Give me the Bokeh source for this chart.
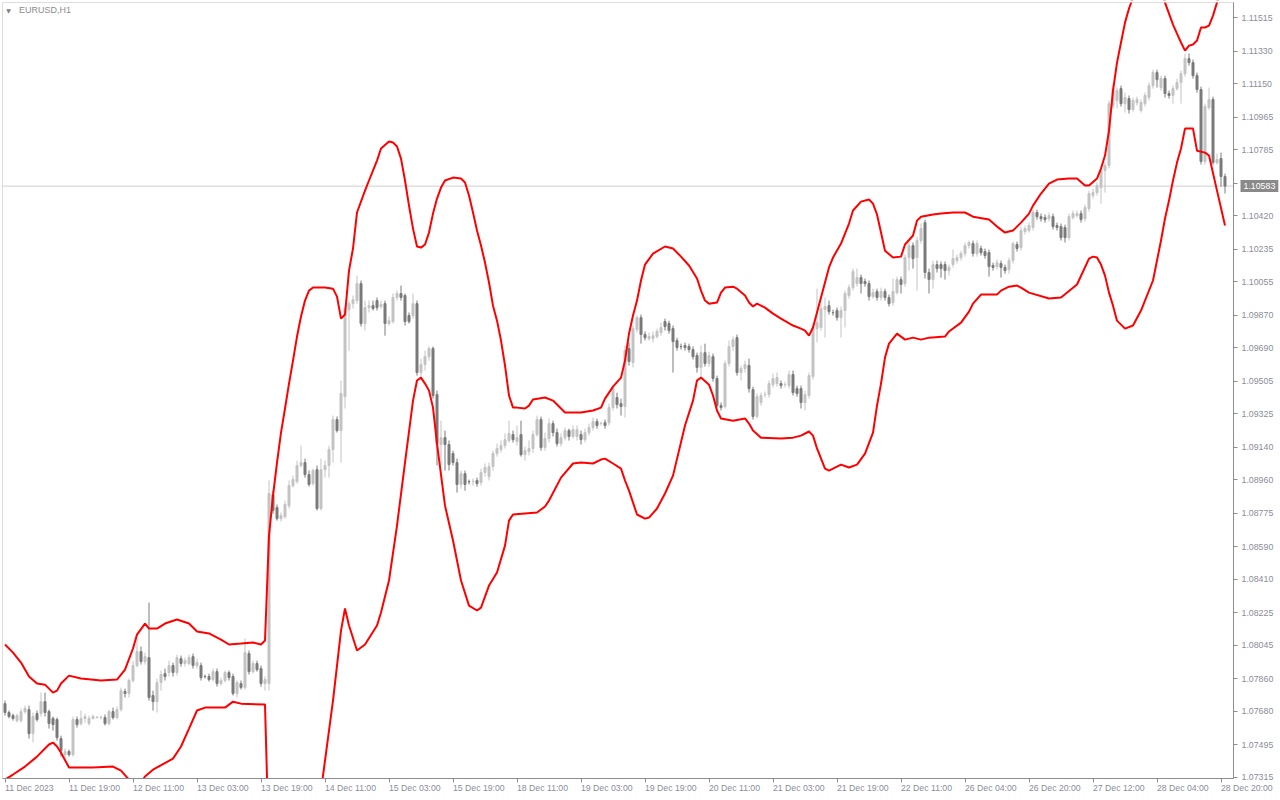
from bokeh.plotting import figure
from bokeh.models import (Range1d, FixedTicker, PrintfTickFormatter, ColumnDataSource,
                          LabelSet, Label, Span, BoxAnnotation)
from bokeh.core.properties import value
from bokeh.embed import file_html
from bokeh.resources import INLINE

# ---------------- data (EURUSD H1) ----------------
opn = [
1.07721, 1.07672, 1.07655, 1.07627, 1.07627, 1.07677, 1.07688, 1.07555, 1.07666, 1.07666,
1.07732, 1.07677, 1.07639, 1.07633, 1.07528, 1.07439, 1.07456, 1.07439, 1.07633, 1.07611,
1.07639, 1.07611, 1.07639, 1.07644, 1.07644, 1.07644, 1.07611, 1.07677, 1.07644, 1.07688,
1.07788, 1.07777, 1.07849, 1.07932, 1.08009, 1.07954, 1.07976, 1.07766, 1.07732, 1.07838,
1.07887, 1.07893, 1.07932, 1.07893, 1.07970, 1.07943, 1.07943, 1.07981, 1.07932, 1.07932,
1.07871, 1.07871, 1.07854, 1.07898, 1.07832, 1.07849, 1.07893, 1.07871, 1.07777, 1.07832,
1.07810, 1.07998, 1.07898, 1.07943, 1.07915, 1.07832, 1.07832, 1.08877, 1.08805, 1.08744,
1.08755, 1.08816, 1.08927, 1.08949, 1.09038, 1.09054, 1.08988, 1.08938, 1.09015, 1.08800,
1.09015, 1.09038, 1.09126, 1.09292, 1.09231, 1.09419, 1.09900, 1.09933, 1.09950, 1.10044,
1.09823, 1.09911, 1.09922, 1.09950, 1.09917, 1.09933, 1.09823, 1.09834, 1.09967, 1.09989,
1.09978, 1.09867, 1.09867, 1.09933, 1.09552, 1.09596, 1.09640, 1.09685, 1.09430, 1.09154,
1.09192, 1.09154, 1.09104, 1.09054, 1.08933, 1.08993, 1.08949, 1.08949, 1.08955, 1.08944,
1.08999, 1.08977, 1.09032, 1.09104, 1.09126, 1.09148, 1.09176, 1.09209, 1.09170, 1.09209,
1.09098, 1.09115, 1.09132, 1.09209, 1.09292, 1.09137, 1.09187, 1.09270, 1.09220, 1.09159,
1.09192, 1.09231, 1.09198, 1.09198, 1.09209, 1.09181, 1.09220, 1.09248, 1.09281, 1.09270,
1.09275, 1.09275, 1.09358, 1.09414, 1.09380, 1.09364, 1.09685, 1.09607, 1.09790, 1.09856,
1.09762, 1.09740, 1.09740, 1.09751, 1.09773, 1.09834, 1.09823, 1.09795, 1.09729, 1.09696,
1.09701, 1.09696, 1.09679, 1.09646, 1.09580, 1.09662, 1.09602, 1.09640, 1.09519, 1.09369,
1.09364, 1.09602, 1.09696, 1.09745, 1.09552, 1.09574, 1.09591, 1.09458, 1.09309, 1.09386,
1.09430, 1.09430, 1.09485, 1.09491, 1.09491, 1.09485, 1.09480, 1.09541, 1.09463, 1.09463,
1.09386, 1.09425, 1.09530, 1.09795, 1.09801, 1.09900, 1.09922, 1.09884, 1.09895, 1.09856,
1.09895, 1.09978, 1.10022, 1.10044, 1.10077, 1.10055, 1.10044, 1.09972, 1.10000, 1.09967,
1.10000, 1.09967, 1.09939, 1.09994, 1.10066, 1.10044, 1.10188, 1.10254, 1.10188, 1.10282,
1.10381, 1.10105, 1.10066, 1.10149, 1.10149, 1.10149, 1.10116, 1.10149, 1.10171, 1.10188,
1.10210, 1.10254, 1.10265, 1.10210, 1.10238, 1.10221, 1.10215, 1.10144, 1.10138, 1.10155,
1.10133, 1.10121, 1.10171, 1.10260, 1.10243, 1.10332, 1.10337, 1.10354, 1.10437, 1.10414,
1.10409, 1.10403, 1.10414, 1.10365, 1.10359, 1.10354, 1.10298, 1.10409, 1.10420, 1.10431,
1.10403, 1.10459, 1.10531, 1.10547, 1.10575, 1.10669, 1.10697, 1.11028, 1.11056, 1.11122,
1.11039, 1.11067, 1.11006, 1.11045, 1.11001, 1.11039, 1.11073, 1.11139, 1.11211, 1.11128,
1.11178, 1.11095, 1.11084, 1.11122, 1.11156, 1.11205, 1.11288, 1.11266, 1.11194, 1.11117,
1.10719, 1.11017, 1.11062, 1.10713, 1.10735, 1.10636]

close = [
1.07672, 1.07650, 1.07639, 1.07655, 1.07677, 1.07694, 1.07555, 1.07650, 1.07633, 1.07732,
1.07672, 1.07611, 1.07605, 1.07533, 1.07462, 1.07456, 1.07439, 1.07633, 1.07605, 1.07639,
1.07650, 1.07639, 1.07650, 1.07647, 1.07645, 1.07611, 1.07677, 1.07644, 1.07688, 1.07793,
1.07777, 1.07849, 1.07932, 1.08009, 1.07954, 1.07981, 1.07755, 1.07732, 1.07838, 1.07882,
1.07871, 1.07932, 1.07893, 1.07976, 1.07943, 1.07959, 1.07976, 1.07932, 1.07948, 1.07865,
1.07870, 1.07854, 1.07898, 1.07832, 1.07849, 1.07893, 1.07865, 1.07777, 1.07838, 1.07810,
1.08003, 1.07898, 1.07943, 1.07909, 1.07832, 1.07854, 1.08883, 1.08789, 1.08744, 1.08761,
1.08822, 1.08927, 1.08960, 1.09038, 1.09054, 1.08988, 1.08933, 1.09010, 1.08800, 1.09015,
1.09038, 1.09126, 1.09292, 1.09231, 1.09436, 1.09906, 1.09933, 1.09955, 1.10044, 1.09823,
1.09911, 1.09922, 1.09906, 1.09911, 1.09928, 1.09823, 1.09839, 1.09967, 1.09989, 1.09967,
1.09834, 1.09834, 1.09933, 1.09552, 1.09596, 1.09640, 1.09685, 1.09425, 1.09159, 1.09192,
1.09154, 1.09043, 1.09054, 1.08933, 1.08993, 1.08933, 1.08948, 1.08950, 1.08938, 1.08999,
1.09027, 1.09032, 1.09104, 1.09132, 1.09148, 1.09181, 1.09215, 1.09181, 1.09192, 1.09098,
1.09120, 1.09132, 1.09209, 1.09292, 1.09137, 1.09187, 1.09270, 1.09220, 1.09159, 1.09192,
1.09231, 1.09198, 1.09237, 1.09237, 1.09181, 1.09220, 1.09248, 1.09281, 1.09259, 1.09271,
1.09259, 1.09358, 1.09463, 1.09375, 1.09364, 1.09673, 1.09613, 1.09795, 1.09856, 1.09762,
1.09745, 1.09751, 1.09756, 1.09779, 1.09801, 1.09806, 1.09784, 1.09723, 1.09690, 1.09695,
1.09690, 1.09679, 1.09640, 1.09580, 1.09662, 1.09602, 1.09646, 1.09519, 1.09369, 1.09358,
1.09602, 1.09696, 1.09734, 1.09552, 1.09574, 1.09596, 1.09463, 1.09309, 1.09419, 1.09425,
1.09431, 1.09491, 1.09519, 1.09524, 1.09480, 1.09486, 1.09541, 1.09441, 1.09436, 1.09386,
1.09430, 1.09535, 1.09801, 1.09828, 1.09906, 1.09917, 1.09889, 1.09883, 1.09856, 1.09895,
1.09989, 1.10022, 1.10110, 1.10077, 1.10044, 1.10044, 1.09972, 1.09994, 1.09967, 1.10000,
1.09967, 1.09933, 1.10000, 1.10066, 1.10039, 1.10188, 1.10254, 1.10182, 1.10282, 1.10348,
1.10105, 1.10066, 1.10149, 1.10127, 1.10127, 1.10116, 1.10133, 1.10182, 1.10188, 1.10210,
1.10254, 1.10271, 1.10210, 1.10265, 1.10215, 1.10199, 1.10138, 1.10133, 1.10160, 1.10133,
1.10116, 1.10171, 1.10265, 1.10238, 1.10337, 1.10348, 1.10365, 1.10437, 1.10414, 1.10403,
1.10398, 1.10420, 1.10359, 1.10354, 1.10298, 1.10298, 1.10414, 1.10431, 1.10431, 1.10398,
1.10464, 1.10542, 1.10547, 1.10586, 1.10669, 1.10697, 1.11039, 1.11122, 1.11111, 1.11039,
1.11073, 1.11006, 1.11056, 1.11062, 1.11045, 1.11084, 1.11139, 1.11211, 1.11172, 1.11178,
1.11095, 1.11084, 1.11122, 1.11156, 1.11205, 1.11288, 1.11266, 1.11194, 1.11117, 1.10719,
1.11023, 1.11062, 1.10713, 1.10730, 1.10636, 1.10583]

high = [
1.07738, 1.07683, 1.07666, 1.07666, 1.07694, 1.07710, 1.07710, 1.07672, 1.07683, 1.07782,
1.07782, 1.07688, 1.07650, 1.07644, 1.07544, 1.07473, 1.07467, 1.07650, 1.07650, 1.07683,
1.07666, 1.07655, 1.07661, 1.07650, 1.07655, 1.07661, 1.07688, 1.07699, 1.07705, 1.07810,
1.07804, 1.07860, 1.07959, 1.08086, 1.08037, 1.08003, 1.08280, 1.07793, 1.07860, 1.07904,
1.07915, 1.07959, 1.07948, 1.07992, 1.07987, 1.07976, 1.07992, 1.07998, 1.07970, 1.07948,
1.07882, 1.07887, 1.07915, 1.07915, 1.07865, 1.07904, 1.07904, 1.07887, 1.07849, 1.07849,
1.08081, 1.08015, 1.07959, 1.07959, 1.07932, 1.07871, 1.08955, 1.08899, 1.08822, 1.08778,
1.08844, 1.08955, 1.08982, 1.09065, 1.09148, 1.09076, 1.09010, 1.09021, 1.09038, 1.09076,
1.09065, 1.09148, 1.09314, 1.09309, 1.09508, 1.09922, 1.09950, 1.09978, 1.10088, 1.10061,
1.09950, 1.09950, 1.09950, 1.09967, 1.09950, 1.09950, 1.09862, 1.09989, 1.10005, 1.10033,
1.09989, 1.09884, 1.09989, 1.09950, 1.09629, 1.09673, 1.09696, 1.09696, 1.09452, 1.09286,
1.09231, 1.09176, 1.09120, 1.09076, 1.09010, 1.09010, 1.08960, 1.08966, 1.08971, 1.09021,
1.09049, 1.09054, 1.09120, 1.09159, 1.09176, 1.09215, 1.09286, 1.09231, 1.09259, 1.09286,
1.09143, 1.09176, 1.09231, 1.09314, 1.09309, 1.09220, 1.09298, 1.09286, 1.09242, 1.09215,
1.09248, 1.09242, 1.09259, 1.09259, 1.09231, 1.09242, 1.09270, 1.09303, 1.09298, 1.09281,
1.09292, 1.09380, 1.09480, 1.09441, 1.09408, 1.09701, 1.09718, 1.09812, 1.09867, 1.09873,
1.09779, 1.09773, 1.09779, 1.09795, 1.09828, 1.09850, 1.09839, 1.09812, 1.09745, 1.09712,
1.09718, 1.09712, 1.09696, 1.09662, 1.09701, 1.09712, 1.09668, 1.09657, 1.09535, 1.09386,
1.09618, 1.09729, 1.09751, 1.09762, 1.09591, 1.09618, 1.09629, 1.09474, 1.09436, 1.09441,
1.09447, 1.09508, 1.09546, 1.09552, 1.09508, 1.09502, 1.09563, 1.09563, 1.09480, 1.09480,
1.09452, 1.09552, 1.09817, 1.10016, 1.09933, 1.09967, 1.09950, 1.09900, 1.09911, 1.09917,
1.10005, 1.10039, 1.10127, 1.10127, 1.10094, 1.10072, 1.10061, 1.10016, 1.10016, 1.10022,
1.10016, 1.09983, 1.10072, 1.10083, 1.10083, 1.10204, 1.10271, 1.10271, 1.10304, 1.10376,
1.10398, 1.10127, 1.10171, 1.10171, 1.10166, 1.10166, 1.10149, 1.10232, 1.10204, 1.10226,
1.10271, 1.10282, 1.10282, 1.10282, 1.10254, 1.10238, 1.10232, 1.10160, 1.10177, 1.10171,
1.10149, 1.10188, 1.10276, 1.10276, 1.10359, 1.10365, 1.10381, 1.10453, 1.10453, 1.10431,
1.10426, 1.10437, 1.10431, 1.10381, 1.10376, 1.10370, 1.10431, 1.10448, 1.10448, 1.10448,
1.10481, 1.10558, 1.10569, 1.10603, 1.10686, 1.10713, 1.11056, 1.11145, 1.11128, 1.11139,
1.11100, 1.11084, 1.11073, 1.11078, 1.11062, 1.11100, 1.11156, 1.11227, 1.11227, 1.11194,
1.11194, 1.11111, 1.11139, 1.11178, 1.11222, 1.11316, 1.11316, 1.11283, 1.11211, 1.11133,
1.11039, 1.11128, 1.11078, 1.10763, 1.10768, 1.10652]

low = [
1.07655, 1.07639, 1.07627, 1.07616, 1.07616, 1.07666, 1.07528, 1.07506, 1.07622, 1.07650,
1.07650, 1.07583, 1.07572, 1.07517, 1.07428, 1.07423, 1.07428, 1.07428, 1.07589, 1.07600,
1.07616, 1.07600, 1.07633, 1.07639, 1.07633, 1.07600, 1.07600, 1.07633, 1.07633, 1.07677,
1.07755, 1.07755, 1.07838, 1.07921, 1.07937, 1.07937, 1.07738, 1.07683, 1.07672, 1.07793,
1.07849, 1.07871, 1.07871, 1.07876, 1.07926, 1.07926, 1.07932, 1.07915, 1.07915, 1.07849,
1.07860, 1.07843, 1.07843, 1.07815, 1.07821, 1.07838, 1.07849, 1.07766, 1.07755, 1.07799,
1.07799, 1.07882, 1.07887, 1.07898, 1.07815, 1.07793, 1.07793, 1.08772, 1.08733, 1.08728,
1.08744, 1.08800, 1.08916, 1.08938, 1.09027, 1.08971, 1.08921, 1.08927, 1.08789, 1.08789,
1.08971, 1.08971, 1.09054, 1.09220, 1.09054, 1.09353, 1.09673, 1.09906, 1.09933, 1.09806,
1.09784, 1.09884, 1.09895, 1.09895, 1.09906, 1.09756, 1.09812, 1.09823, 1.09950, 1.09950,
1.09812, 1.09823, 1.09850, 1.09535, 1.09508, 1.09563, 1.09618, 1.09408, 1.09038, 1.09038,
1.09010, 1.09010, 1.09038, 1.08888, 1.08910, 1.08899, 1.08933, 1.08927, 1.08921, 1.08927,
1.08977, 1.08955, 1.09010, 1.09087, 1.09109, 1.09132, 1.09165, 1.09165, 1.09148, 1.09087,
1.09065, 1.09093, 1.09109, 1.09198, 1.09120, 1.09120, 1.09165, 1.09198, 1.09143, 1.09143,
1.09176, 1.09176, 1.09187, 1.09176, 1.09154, 1.09165, 1.09203, 1.09231, 1.09242, 1.09259,
1.09242, 1.09259, 1.09342, 1.09353, 1.09314, 1.09303, 1.09591, 1.09580, 1.09773, 1.09712,
1.09729, 1.09729, 1.09718, 1.09740, 1.09756, 1.09784, 1.09767, 1.09552, 1.09673, 1.09679,
1.09673, 1.09662, 1.09624, 1.09552, 1.09524, 1.09585, 1.09585, 1.09502, 1.09358, 1.09342,
1.09353, 1.09585, 1.09673, 1.09535, 1.09508, 1.09552, 1.09441, 1.09292, 1.09298, 1.09369,
1.09414, 1.09414, 1.09469, 1.09474, 1.09463, 1.09469, 1.09463, 1.09425, 1.09419, 1.09353,
1.09342, 1.09408, 1.09513, 1.09718, 1.09784, 1.09745, 1.09873, 1.09867, 1.09839, 1.09745,
1.09801, 1.09961, 1.10005, 1.10027, 1.09989, 1.10027, 1.09950, 1.09961, 1.09950, 1.09950,
1.09950, 1.09917, 1.09922, 1.09983, 1.09989, 1.10027, 1.10116, 1.10127, 1.10005, 1.10265,
1.10072, 1.09989, 1.10016, 1.10105, 1.10077, 1.10066, 1.10088, 1.10133, 1.10155, 1.10171,
1.10193, 1.10238, 1.10193, 1.10193, 1.10199, 1.10182, 1.10083, 1.10116, 1.10121, 1.10077,
1.10099, 1.10099, 1.10155, 1.10221, 1.10226, 1.10315, 1.10326, 1.10337, 1.10398, 1.10387,
1.10381, 1.10387, 1.10343, 1.10337, 1.10282, 1.10271, 1.10282, 1.10398, 1.10409, 1.10381,
1.10387, 1.10442, 1.10514, 1.10531, 1.10486, 1.10547, 1.10680, 1.11012, 1.11012, 1.11023,
1.10990, 1.10984, 1.10995, 1.11028, 1.10990, 1.11023, 1.11056, 1.11122, 1.11128, 1.11111,
1.11073, 1.11067, 1.11039, 1.11111, 1.11039, 1.11189, 1.11250, 1.11178, 1.11100, 1.10702,
1.10702, 1.11006, 1.10702, 1.10702, 1.10580, 1.10542]

# red envelope (indicator) – bar index and value
upper_bar = [0, 2, 4, 6, 8, 10, 12, 13, 14, 16, 19, 24, 28, 30, 32, 33, 35, 36, 38, 40,
             43, 46, 48, 51, 54, 56, 59, 62, 64, 65, 66, 67, 68, 69, 70, 71, 72, 73, 74, 75,
             76, 77, 80, 82, 83, 84, 85, 86, 87, 88, 90, 91, 93, 94, 96, 97, 98, 99, 100, 101,
             102, 103, 104, 105, 106, 107, 108, 109, 110, 112, 114, 115, 116, 117, 118, 119, 120, 121, 122, 123,
             124, 125, 126, 127, 128, 130, 131, 132, 135, 137, 138, 140, 144, 147, 149, 150, 152, 154, 155, 156,
             157, 158, 159, 160, 162, 165, 167, 169, 171, 173, 174, 175, 176, 178, 179, 180, 182, 183, 185, 186,
             187, 188, 190, 192, 194, 197, 199, 200, 201, 202, 204, 206, 207, 209, 211, 212, 214, 216, 217, 218,
             219, 220, 222, 224, 225, 227, 228, 229, 232, 234, 237, 240, 242, 246, 248, 250, 252, 254, 256, 257,
             259, 261, 263, 266, 268, 270, 271, 273, 274, 275, 276, 277, 278, 279, 280, 281, 282, 284, 286, 288,
             289, 290, 292, 293, 294, 295, 296, 297, 298, 299, 300, 301, 302, 303, 304, 305]
upper_val = [1.08048, 1.08003, 1.07948, 1.07871, 1.07832, 1.07826, 1.07782, 1.07793, 1.07832, 1.07876,
             1.07860, 1.07849, 1.07854, 1.07909, 1.08026, 1.08103, 1.08164, 1.08136, 1.08136, 1.08164,
             1.08186, 1.08164, 1.08120, 1.08109, 1.08075, 1.08048, 1.08053, 1.08059, 1.08048, 1.08070,
             1.08650, 1.08872, 1.09054, 1.09220, 1.09353, 1.09491, 1.09618, 1.09751, 1.09862, 1.09950,
             1.10005, 1.10022, 1.10022, 1.10016, 1.09972, 1.09850, 1.09873, 1.10116, 1.10238, 1.10437,
             1.10558, 1.10614, 1.10724, 1.10791, 1.10830, 1.10824, 1.10802, 1.10735, 1.10614, 1.10475,
             1.10348, 1.10249, 1.10243, 1.10260, 1.10326, 1.10431, 1.10514, 1.10575, 1.10614, 1.10630,
             1.10625, 1.10603, 1.10531, 1.10437, 1.10337, 1.10254, 1.10160, 1.10050, 1.09922, 1.09839,
             1.09729, 1.09591, 1.09425, 1.09358, 1.09358, 1.09353, 1.09369, 1.09403, 1.09414, 1.09397,
             1.09375, 1.09331, 1.09331, 1.09342, 1.09358, 1.09408, 1.09474, 1.09524, 1.09618, 1.09767,
             1.09867, 1.09950, 1.10061, 1.10149, 1.10210, 1.10249, 1.10238, 1.10193, 1.10144, 1.10072,
             1.10005, 1.09950, 1.09933, 1.09939, 1.09994, 1.10022, 1.10027, 1.10016, 1.09978, 1.09939,
             1.09917, 1.09933, 1.09911, 1.09878, 1.09850, 1.09812, 1.09795, 1.09784, 1.09756, 1.09801,
             1.09967, 1.10133, 1.10188, 1.10265, 1.10376, 1.10448, 1.10497, 1.10509, 1.10486, 1.10426,
             1.10326, 1.10226, 1.10188, 1.10193, 1.10260, 1.10310, 1.10392, 1.10414, 1.10426, 1.10431,
             1.10437, 1.10437, 1.10414, 1.10398, 1.10359, 1.10326, 1.10337, 1.10381, 1.10431, 1.10475,
             1.10542, 1.10597, 1.10619, 1.10625, 1.10625, 1.10586, 1.10586, 1.10625, 1.10680, 1.10752,
             1.10890, 1.11111, 1.11266, 1.11377, 1.11487, 1.11565, 1.11626, 1.11720, 1.11775, 1.11747,
             1.11675, 1.11598, 1.11476, 1.11426, 1.11377, 1.11332, 1.11360, 1.11366, 1.11388, 1.11460,
             1.11460, 1.11471, 1.11526, 1.11598, 1.11664, 1.11731]

lower_bar = [0, 2, 5, 8, 10, 11, 12, 13, 14, 16, 22, 27, 29, 31, 33, 35, 37, 42, 44, 46,
             48, 50, 55, 57, 59, 65, 66, 68, 71, 74, 77, 79, 80, 82, 84, 85, 86, 88, 90, 93,
             94, 96, 98, 100, 102, 103, 104, 105, 106, 107, 108, 110, 112, 114, 116, 118, 119, 121, 123, 125,
             126, 127, 133, 135, 136, 139, 142, 144, 147, 149, 150, 152, 154, 155, 156, 158, 160, 161, 163, 165,
             167, 170, 172, 173, 174, 176, 177, 178, 179, 182, 185, 186, 187, 189, 194, 197, 199, 201, 202, 203,
             205, 206, 209, 211, 213, 215, 217, 218, 219, 220, 221, 223, 225, 227, 229, 231, 235, 236, 239, 241,
             242, 244, 248, 249, 251, 253, 254, 256, 261, 264, 268, 271, 272, 273, 274, 275, 276, 277, 278, 280,
             282, 284, 287, 289, 290, 291, 292, 293, 294, 295, 297, 298, 300, 301, 303, 305]
lower_val = [1.07301, 1.07329, 1.07373, 1.07428, 1.07473, 1.07495, 1.07506, 1.07484, 1.07450, 1.07368,
             1.07368, 1.07373, 1.07351, 1.07301, 1.07252, 1.07318, 1.07356, 1.07417, 1.07484, 1.07583,
             1.07683, 1.07699, 1.07699, 1.07732, 1.07721, 1.07716, 1.06908, 1.06632, 1.06466, 1.06577,
             1.06853, 1.07240, 1.07406, 1.07738, 1.08125, 1.08247, 1.08153, 1.08015, 1.08048, 1.08153,
             1.08225, 1.08402, 1.08706, 1.09054, 1.09397, 1.09508, 1.09524, 1.09491, 1.09452, 1.09358,
             1.09159, 1.08816, 1.08623, 1.08402, 1.08263, 1.08236, 1.08252, 1.08374, 1.08446, 1.08595,
             1.08733, 1.08767, 1.08778, 1.08811, 1.08844, 1.08971, 1.09049, 1.09054, 1.09049, 1.09071,
             1.09076, 1.09049, 1.09021, 1.08955, 1.08899, 1.08767, 1.08744, 1.08750, 1.08800, 1.08883,
             1.08982, 1.09259, 1.09397, 1.09508, 1.09524, 1.09485, 1.09425, 1.09342, 1.09298, 1.09286,
             1.09298, 1.09270, 1.09231, 1.09192, 1.09187, 1.09192, 1.09203, 1.09226, 1.09203, 1.09132,
             1.09021, 1.09010, 1.09043, 1.09027, 1.09043, 1.09104, 1.09220, 1.09369, 1.09491, 1.09635,
             1.09712, 1.09767, 1.09734, 1.09745, 1.09734, 1.09745, 1.09751, 1.09779, 1.09828, 1.09889,
             1.09933, 1.09983, 1.09983, 1.10005, 1.10027, 1.10033, 1.10022, 1.09994, 1.09961, 1.09967,
             1.10039, 1.10182, 1.10193, 1.10188, 1.10149, 1.10088, 1.09994, 1.09922, 1.09839, 1.09795,
             1.09812, 1.09895, 1.10061, 1.10282, 1.10404, 1.10503, 1.10614, 1.10713, 1.10791, 1.10901,
             1.10901, 1.10779, 1.10768, 1.10752, 1.10558, 1.10365]

price_ticks = [1.11515, 1.11330, 1.11150, 1.10965, 1.10785, 1.10600, 1.10420, 1.10235,
               1.10055, 1.09870, 1.09690, 1.09505, 1.09325, 1.09140, 1.08960, 1.08775,
               1.08590, 1.08410, 1.08225, 1.08045, 1.07860, 1.07680, 1.07495, 1.07315]
time_tick_bars = [0, 16, 32, 48, 64, 80, 96, 112, 128, 144, 160, 176, 192, 208, 224,
                  240, 256, 272, 288, 304]
time_labels = ["11 Dec 2023", "11 Dec 19:00", "12 Dec 11:00", "13 Dec 03:00", "13 Dec 19:00",
               "14 Dec 11:00", "15 Dec 03:00", "15 Dec 19:00", "18 Dec 11:00", "19 Dec 03:00",
               "19 Dec 19:00", "20 Dec 11:00", "21 Dec 03:00", "21 Dec 19:00", "22 Dec 11:00",
               "26 Dec 04:00", "26 Dec 20:00", "27 Dec 12:00", "28 Dec 04:00", "28 Dec 20:00"]
last_price = 1.10583
symbol = "EURUSD,H1"

# ---------------- layout constants (view window, not data) ----------------
X_VIEW = (-1.125, 318.875)          # whole 1280 px canvas, 4 px per bar
Y_VIEW = (1.071854, 1.116094)       # whole 800 px canvas
CHART_X = (-0.625, 307.125)         # price-chart box (MT4 window area)
CHART_Y = (1.073071, 1.115983)

BULL = "#c3c3c3"
BEAR = "#7b7b7b"
AX = "#8e8e8e"
TXT = "#8a8d98"
FONT = "Liberation Sans"

p = figure(width=1280, height=800,
           x_range=Range1d(*X_VIEW), y_range=Range1d(*Y_VIEW),
           output_backend="svg", toolbar_location=None, title=None,
           x_axis_location="below", y_axis_location="right",
           min_border_left=0, min_border_right=0, min_border_top=0, min_border_bottom=0,
           background_fill_color="white", border_fill_color="white",
           outline_line_color=None)
p.grid.visible = False

n = len(close)
idx = list(range(n))
colors = [BULL if c >= o else BEAR for o, c in zip(opn, close)]
src = ColumnDataSource(dict(x=idx, lo=low, hi=high,
                            top=[max(o, c) for o, c in zip(opn, close)],
                            bot=[min(o, c) for o, c in zip(opn, close)],
                            col=colors))

p.add_layout(Span(location=last_price, dimension="width", line_color="#cfcfcf",
                  line_width=1, level="underlay"))

p.segment(x0="x", y0="lo", x1="x", y1="hi", line_color="col", line_width=1, source=src)
p.vbar(x="x", width=0.5, top="top", bottom="bot", fill_color="col", line_color="col",
       line_width=1, source=src)

p.line(upper_bar, upper_val, line_color="#ff0000", line_width=2)
p.line(lower_bar, lower_val, line_color="#ff0000", line_width=2)

# white masks: keep the indicator inside the chart window (MT4 clips there)
for l, r, b, t in [(X_VIEW[0], X_VIEW[1], Y_VIEW[0], CHART_Y[0]),
                   (X_VIEW[0], X_VIEW[1], CHART_Y[1], Y_VIEW[1]),
                   (X_VIEW[0], CHART_X[0], Y_VIEW[0], Y_VIEW[1]),
                   (CHART_X[1], X_VIEW[1], Y_VIEW[0], Y_VIEW[1])]:
    p.add_layout(BoxAnnotation(left=l, right=r, bottom=b, top=t, fill_color="white",
                               fill_alpha=1, line_color=None, level="glyph"))

# chart window border
p.add_layout(BoxAnnotation(left=CHART_X[0], right=CHART_X[1], bottom=CHART_Y[0], top=CHART_Y[1],
                           fill_alpha=0, line_color=AX, line_width=1, level="annotation"))

# right price axis, pinned at the chart edge
ya = p.yaxis[0]
ya.fixed_location = CHART_X[1]
ya.bounds = CHART_Y
ya.ticker = FixedTicker(ticks=price_ticks)
ya.formatter = PrintfTickFormatter(format="%.5f")
ya.axis_line_color = AX
ya.major_tick_line_color = AX
ya.major_tick_out = 4
ya.major_tick_in = 0
ya.minor_tick_line_color = None
ya.major_label_standoff = 4
ya.major_label_text_font = FONT
ya.major_label_text_font_size = "8.8px"
ya.major_label_text_color = TXT

# bottom time axis (ticks; labels are left-aligned to the tick as in MT4)
xa = p.xaxis[0]
xa.fixed_location = CHART_Y[0]
xa.bounds = CHART_X
xa.ticker = FixedTicker(ticks=time_tick_bars)
xa.major_label_overrides = {b: "" for b in time_tick_bars}
xa.axis_line_color = AX
xa.major_tick_line_color = AX
xa.major_tick_out = 4
xa.major_tick_in = 0
xa.minor_tick_line_color = None

lab_src = ColumnDataSource(dict(x=time_tick_bars, y=[1.07280] * len(time_tick_bars),
                                t=time_labels))
p.add_layout(LabelSet(x="x", y="y", text="t", source=lab_src, x_offset=0,
                      text_baseline="top", text_align="left", text_font=value(FONT),
                      text_font_size=value("8.7px"), text_color=value(TXT)))

# current price tag
p.add_layout(Label(x=308.875, y=last_price, text=f"{last_price:.5f}", text_baseline="middle",
                   text_align="left", text_font=FONT, text_font_size="8.8px",
                   text_color="white", background_fill_color="#8a8a8a", padding=3))

# symbol caption
p.add_layout(Label(x=0.3, y=1.11585, text="\u25bc", text_baseline="top", text_align="left",
                   text_font="DejaVu Sans", text_font_size="6px", text_color="#7f7f7f",
                   y_offset=-2))
p.add_layout(Label(x=3.5, y=1.11585, text=symbol, text_baseline="top", text_align="left",
                   text_font=FONT, text_font_size="9px", text_color="#8c8c8c"))

open("out.html", "w").write(file_html(p, INLINE))
